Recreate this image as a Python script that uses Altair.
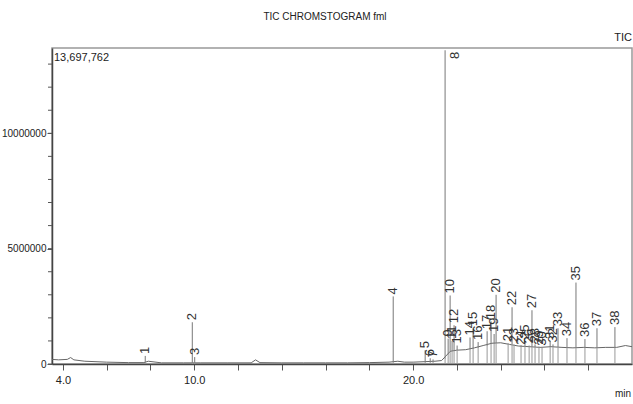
import altair as alt
import pandas as pd

# ---- data ----
peak_no = list(range(1, 39))
peak_time = [7.76, 9.91, 10.02, 19.09, 20.55, 20.78, 20.91, 21.46, 21.60, 21.69,
             21.78, 21.87, 22.01, 22.60, 22.74, 22.97, 23.38, 23.56, 23.70, 23.79,
             24.34, 24.52, 24.61, 24.93, 25.11, 25.30, 25.43, 25.57, 25.75, 25.89,
             26.26, 26.39, 26.62, 27.03, 27.44, 27.85, 28.40, 29.22]
peak_height = [350000, 1810000, 300000, 2930000, 600000, 250000, 200000, 13600000, 1100000, 2970000,
               1000000, 1680000, 800000, 1150000, 1550000, 950000, 1420000, 1850000, 1300000, 3000000,
               900000, 2460000, 850000, 750000, 1000000, 800000, 2330000, 850000, 750000, 700000,
               1000000, 850000, 1550000, 1120000, 3530000, 1080000, 1550000, 1600000]
peak_base = [60000, 50000, 50000, 80000, 100000, 110000, 115000, 200000, 400000, 500000,
             550000, 580000, 600000, 620000, 650000, 690000, 780000, 850000, 880000, 900000,
             880000, 860000, 850000, 800000, 780000, 760000, 750000, 740000, 730000, 720000,
             740000, 750000, 740000, 720000, 710000, 720000, 710000, 720000]

base_time = [3.5, 3.8, 4.2, 4.35, 4.5, 5.0, 6.0, 7.0, 7.7, 7.9, 8.5, 9.5, 10.3, 11.5,
             12.6, 12.8, 13.0, 14.0, 15.0, 16.0, 17.0, 18.0, 18.9, 19.3, 19.6, 20.0,
             20.5, 21.0, 21.3, 21.5, 21.7, 22.0, 22.4, 22.8, 23.2, 23.6, 24.0, 24.4,
             24.8, 25.3, 25.8, 26.3, 26.8, 27.3, 27.8, 28.3, 28.8, 29.3, 29.7, 30.0]
base_signal = [200000, 180000, 200000, 280000, 180000, 120000, 80000, 60000, 60000, 120000,
               50000, 50000, 50000, 50000, 50000, 180000, 60000, 50000, 50000, 50000,
               50000, 60000, 80000, 120000, 80000, 80000, 100000, 120000, 150000, 350000,
               550000, 600000, 620000, 700000, 800000, 900000, 920000, 850000, 780000, 750000,
               720000, 750000, 720000, 700000, 720000, 700000, 720000, 720000, 800000, 750000]

x_ticks = list(range(4, 30))
x_labels = [4, 10, 20, 29]
y_minor_ticks = [i * 1000000 for i in range(0, 14)]
y_labels = [0, 5000000, 10000000]

TOPV = 13697762
FONT = "Liberation Sans"

peaks = pd.DataFrame({"no": peak_no, "t": peak_time, "h": peak_height, "b": peak_base})
peaks["label"] = peaks["no"].astype(str)
base = pd.DataFrame({"t": base_time, "v": base_signal})
yminor = pd.DataFrame({"v": y_minor_ticks})

xs = alt.Scale(domain=[3.5, 30.0], nice=False, zero=False)
ys = alt.Scale(domain=[0, TOPV], nice=False)

x_axis = alt.Axis(
    values=x_ticks, format=".1f", title=None, grid=False,
    labelExpr="indexof(" + str(x_labels) + ", datum.value) >= 0 ? datum.label : ''",
    tickSize=6, tickColor="#555", domainColor="#444", domainWidth=1.5,
    labelFont=FONT, labelFontSize=11, labelColor="#222", labelPadding=4,
    labelFlush=False, labelOverlap=False)
y_axis = alt.Axis(values=y_labels, format="d", title=None, grid=False,
                  tickSize=5, tickColor="#555", domainColor="#444", domainWidth=1.5,
                  labelFont=FONT, labelFontSize=10, labelColor="#222", labelPadding=1,
                  labelOverlap=False, labelFlush=False)

X = alt.X("t:Q", scale=xs, title=None)

baseline = alt.Chart(base).mark_line(color="#666", strokeWidth=1).encode(
    x=alt.X("t:Q", scale=xs, axis=x_axis),
    y=alt.Y("v:Q", scale=ys, axis=y_axis))

minor = alt.Chart(yminor).mark_rule(color="#555", strokeWidth=1).encode(
    x=alt.value(-4), x2=alt.value(0), y=alt.Y("v:Q", scale=ys, title=None))

markers = alt.Chart(peaks).mark_rule(color="#999", strokeWidth=1).encode(
    x=X, y=alt.Y("b:Q", scale=ys, title=None), y2=alt.datum(0))

spikes = alt.Chart(peaks).mark_rule(color="#777", strokeWidth=1).encode(
    x=X, y=alt.Y("b:Q", scale=ys, title=None), y2="h:Q")

labels = alt.Chart(peaks).transform_filter("datum.no != 8").mark_text(
    angle=270, align="left", baseline="middle", dx=2, fontSize=13,
    font="Liberation Sans", color="#333").encode(
    x=X, y=alt.Y("h:Q", scale=ys, title=None), text="label:N")

label8 = alt.Chart(peaks).transform_filter("datum.no == 8").mark_text(
    angle=270, align="left", baseline="middle", dy=10, fontSize=13,
    font="Liberation Sans", color="#333").encode(
    x=X, y=alt.value(11), text="label:N")

annot = pd.DataFrame({"txt": ["13,697,762"]})
maxlab = alt.Chart(annot).mark_text(align="left", baseline="middle", fontSize=11,
                                    font=FONT, color="#222").encode(
    x=alt.value(2), y=alt.value(10), text="txt:N")
title = alt.Chart(annot).mark_text(align="center", baseline="middle", fontSize=10,
                                   font=FONT, color="#222").encode(
    x=alt.value(273), y=alt.value(-31), text=alt.value("TIC CHROMSTOGRAM fml"))
tic = alt.Chart(annot).mark_text(align="right", baseline="middle", fontSize=11,
                                 font=FONT, color="#222").encode(
    x=alt.value(580), y=alt.value(-10), text=alt.value("TIC"))
minl = alt.Chart(annot).mark_text(align="right", baseline="middle", fontSize=10,
                                  font=FONT, color="#222").encode(
    x=alt.value(579), y=alt.value(30 + 316), text=alt.value("min"))

chart = alt.layer(baseline, minor, markers, spikes, labels, label8, maxlab, title, tic, minl).properties(
    width=580, height=316,
    autosize=alt.AutoSizeParams(type="none"),
    padding={"left": 52, "top": 48, "right": 1, "bottom": 40},
    background="white",
).configure_view(stroke="#999", strokeWidth=1.5).configure_axis(
    labelOverlap=False, labelFlush=False)

chart.save("out.html", embed_options={"renderer": "svg", "actions": False})
